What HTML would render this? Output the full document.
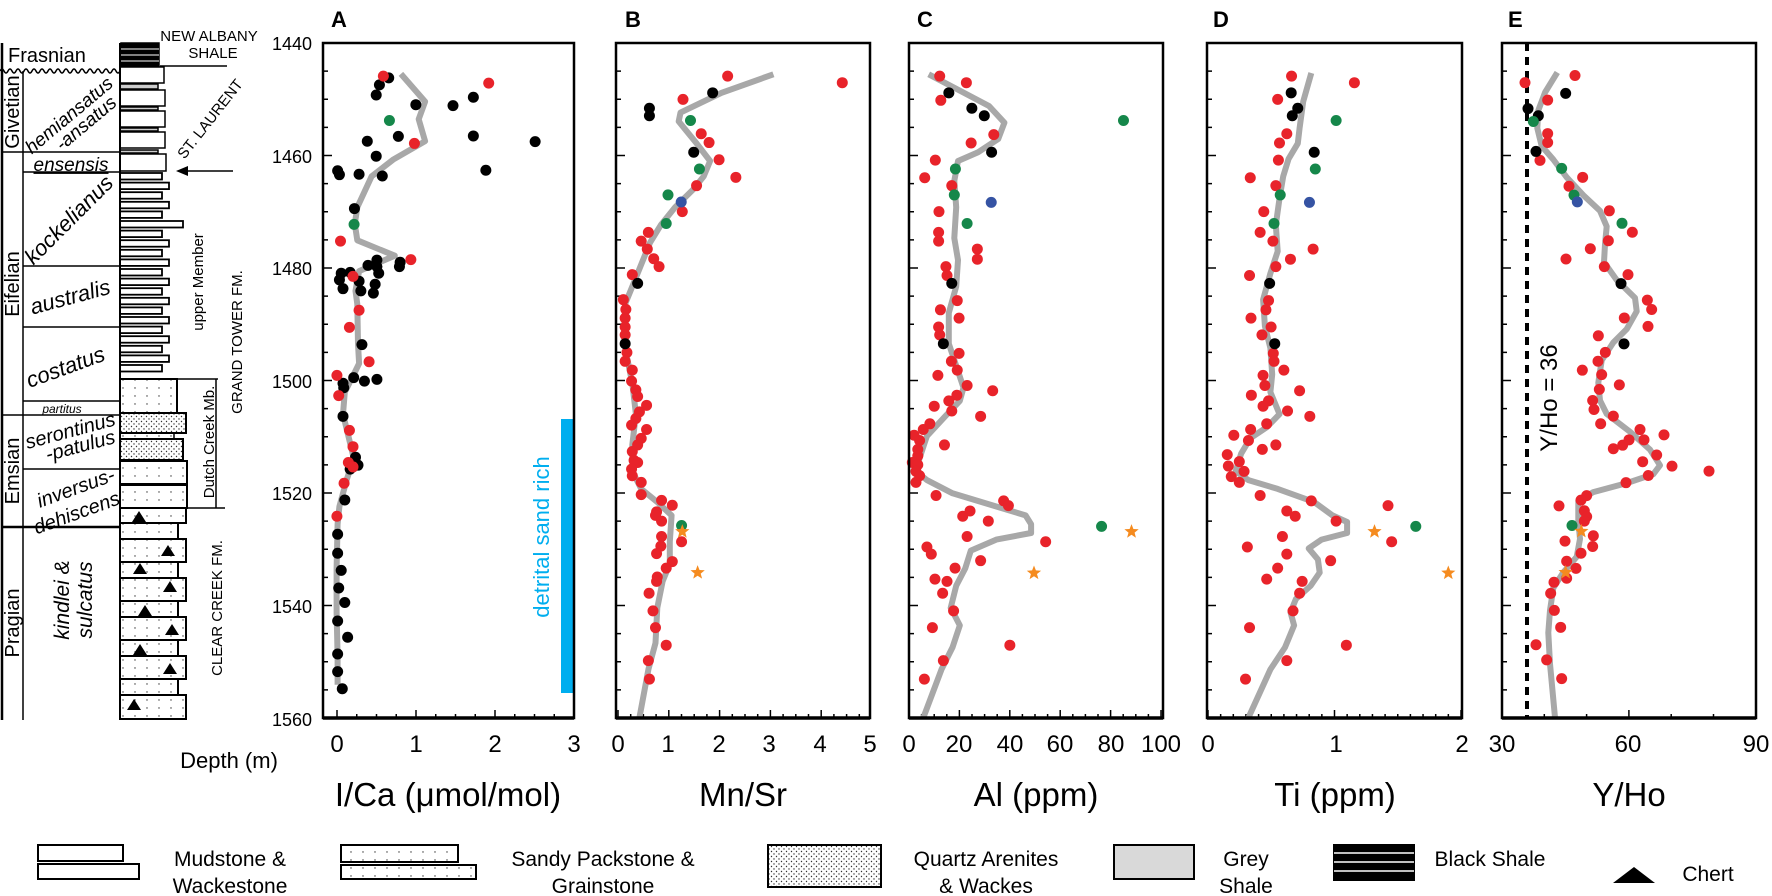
<!DOCTYPE html>
<html><head><meta charset="utf-8">
<style>
html,body{margin:0;padding:0;background:#fff;}
svg{display:block;font-family:"Liberation Sans",Arial,sans-serif;}
</style></head>
<body>
<svg id="s" width="1772" height="896" viewBox="0 0 1772 896" xmlns="http://www.w3.org/2000/svg">
<defs>
<pattern id="dots" width="12" height="8" patternUnits="userSpaceOnUse"><circle cx="3" cy="4" r="0.7" fill="#333"/></pattern>
<pattern id="dots2" width="5" height="5" patternUnits="userSpaceOnUse"><circle cx="1.5" cy="1.5" r="0.7" fill="#333"/><circle cx="4" cy="4" r="0.7" fill="#333"/></pattern>
</defs>
<!-- Panel letters -->
<g font-weight="bold" font-size="22">
<text x="331" y="27">A</text><text x="625" y="27">B</text><text x="917" y="27">C</text><text x="1213" y="27">D</text><text x="1508" y="27">E</text>
</g>
<!-- depth labels -->
<g font-size="18" text-anchor="end">
<text x="312" y="50">1440</text><text x="312" y="163">1460</text><text x="312" y="275">1480</text><text x="312" y="388">1500</text><text x="312" y="500">1520</text><text x="312" y="613">1540</text><text x="312" y="726">1560</text>
</g>
<text x="229" y="768" font-size="22" text-anchor="middle">Depth (m)</text>
<!-- bottom tick labels -->
<g font-size="24" text-anchor="middle">
<text x="337" y="752">0</text><text x="416" y="752">1</text><text x="495" y="752">2</text><text x="574" y="752">3</text>
<text x="618" y="752">0</text><text x="668" y="752">1</text><text x="719" y="752">2</text><text x="769" y="752">3</text><text x="820" y="752">4</text><text x="870" y="752">5</text>
<text x="909" y="752">0</text><text x="959" y="752">20</text><text x="1010" y="752">40</text><text x="1060" y="752">60</text><text x="1111" y="752">80</text><text x="1161" y="752">100</text>
<text x="1208" y="752">0</text><text x="1336" y="752">1</text><text x="1462" y="752">2</text>
<text x="1502" y="752">30</text><text x="1628" y="752">60</text><text x="1756" y="752">90</text>
</g>
<g font-size="33" text-anchor="middle">
<text x="448" y="806">I/Ca (μmol/mol)</text><text x="743" y="806">Mn/Sr</text><text x="1036" y="806">Al (ppm)</text><text x="1335" y="806">Ti (ppm)</text><text x="1629" y="806">Y/Ho</text>
</g>
<!-- blue bar -->
<rect x="561" y="419" width="12" height="274" fill="#00aeef"/>
<text transform="translate(549,537) rotate(-90)" font-size="22" fill="#00aeef" text-anchor="middle">detrital sand rich</text>
<!-- E dashed line -->
<line x1="1527" y1="43" x2="1527" y2="718" stroke="#000" stroke-width="4" stroke-dasharray="8,6"/>
<text transform="translate(1557,398) rotate(-90)" font-size="24" text-anchor="middle">Y/Ho = 36</text>
<g id="plots"></g>
<g id="col"></g>
<!-- Legend -->
<g stroke="#000" stroke-width="2" fill="#fff">
<rect x="38" y="845" width="85" height="16"/><rect x="38" y="864" width="101" height="15"/>
<rect x="341" y="845" width="117" height="17" fill="url(#dots)"/><rect x="341" y="865" width="135" height="14" fill="url(#dots)"/>
<rect x="768" y="845" width="113" height="42" fill="url(#dots2)"/>
<rect x="1114" y="845" width="80" height="34" fill="#d9d9d9"/>
<rect x="1334" y="845" width="80" height="35" fill="#000"/>
</g>
<g stroke="#fff" stroke-width="1.5"><line x1="1334" y1="853" x2="1414" y2="853"/><line x1="1334" y1="862" x2="1414" y2="862"/><line x1="1334" y1="871" x2="1414" y2="871"/></g>
<polygon points="1613,883 1655,883 1634,867" fill="#000"/>
<g font-size="21" text-anchor="middle">
<text x="230" y="866">Mudstone &amp;</text><text x="230" y="893">Wackestone</text>
<text x="603" y="866">Sandy Packstone &amp;</text><text x="603" y="893">Grainstone</text>
<text x="986" y="866">Quartz Arenites</text><text x="986" y="893">&amp; Wackes</text>
<text x="1246" y="866">Grey</text><text x="1246" y="893">Shale</text>
<text x="1490" y="866">Black Shale</text><text x="1708" y="881">Chert</text>
</g>
<!-- strat column texts -->
<g font-size="20">
<text x="8" y="62">Frasnian</text>
<text transform="translate(19,112) rotate(-90)" text-anchor="middle">Givetian</text>
<text transform="translate(19,284) rotate(-90)" text-anchor="middle">Eifelian</text>
<text transform="translate(19,471) rotate(-90)" text-anchor="middle">Emsian</text>
<text transform="translate(19,623) rotate(-90)" text-anchor="middle">Pragian</text>
</g>
<g font-size="19" font-style="italic" text-anchor="middle">
<text transform="translate(73,120) rotate(-40)">hemiansatus</text>
<text transform="translate(90,128) rotate(-40)">-ansatus</text>
<text x="71" y="171" text-decoration="underline">ensensis</text>
<text transform="translate(74,225) rotate(-45)" font-size="22">kockelianus</text>
<text transform="translate(72,304) rotate(-15)" font-size="22">australis</text>
<text transform="translate(68,374) rotate(-20)" font-size="22">costatus</text>
<text x="62" y="413" font-size="12">partitus</text>
<text transform="translate(72,437) rotate(-15)" font-size="20">serontinus</text>
<text transform="translate(82,452) rotate(-15)" font-size="20">-patulus</text>
<text transform="translate(78,494) rotate(-20)" font-size="20">inversus-</text>
<text transform="translate(79,519) rotate(-20)" font-size="20">dehiscens</text>
<text transform="translate(69,600) rotate(-90)" font-size="21">kindlei &amp;</text>
<text transform="translate(92,600) rotate(-90)" font-size="21">sulcatus</text>
</g>
<g font-size="15">
<text x="209" y="41" text-anchor="middle">NEW ALBANY</text><text x="213" y="58" text-anchor="middle">SHALE</text>
<text transform="translate(214,122) rotate(-52)" text-anchor="middle">ST. LAURENT</text>
<text transform="translate(203,282) rotate(-90)" text-anchor="middle">upper Member</text>
<text transform="translate(242,342) rotate(-90)" text-anchor="middle">GRAND TOWER FM.</text>
<text transform="translate(214,442) rotate(-90)" text-anchor="middle">Dutch Creek Mb.</text>
<text transform="translate(222,608) rotate(-90)" text-anchor="middle">CLEAR CREEK FM.</text>
</g>
<line x1="233" y1="171" x2="184" y2="171" stroke="#000" stroke-width="1.5"/>
<polygon points="176,171 188,166 188,176" fill="#000"/>
</svg>
<script>
var NS="http://www.w3.org/2000/svg";
function el(p,t,a){var e=document.createElementNS(NS,t);for(var k in a)e.setAttribute(k,a[k]);p.appendChild(e);return e;}
var P=document.getElementById('plots'),C=document.getElementById('col');
var Y0=43,Y1=718;
function dy(d){return Y0+(d-1440)*(Y1-Y0)/120;}
var boxes=[[323,574],[616,870],[909,1163],[1207,1462],[1502,1756]];
var z6=function(x,y){return [318+x/2.8,40+y/2.272];};
var z7=function(x,y){return [905+x/2.737,40+y/2.272];};
var z8=function(x,y){return [1440+x/3,30+y/2.24];};
var RED="#e8232a",BLK="#000",GRN="#15874a",BLU="#3553a3",ORG="#f58b1f",GRY="#a8a8a8";
// ticks & boxes
var minor=[[337,79,0.25,1],[618,50.8,0.25,1],[909,2.52,5,20],[1208,126.5,0.1,1],[1502,4.23,10,30]];
var ranges=[[-0.2,3],[0,5],[0,100],[0,2],[30,90]];
boxes.forEach(function(b,i){
 for(var d=1445;d<1560;d+=5){var y=dy(d);var L=(d%20==0)?9:5;el(P,'line',{x1:b[0],y1:y,x2:b[0]+L,y2:y,stroke:'#000','stroke-width':1.5});}
 var m=minor[i],r=ranges[i];
 for(var v=r[0]<0?0:r[0];v<=r[1]+1e-6;v+=m[2]){var x=m[0]+(v-(i==4?30:0))*m[1];if(x<b[0]+1||x>b[1]-1)continue;var maj=Math.abs(v/m[3]-Math.round(v/m[3]))<1e-6;el(P,'line',{x1:x,y1:Y1,x2:x,y2:Y1-(maj?8:4),stroke:'#000','stroke-width':1.5});}
});
function line(f,pts){var s=pts.map(function(p){var q=f(p[0],p[1]);return q[0].toFixed(1)+','+q[1].toFixed(1);}).join(' ');el(P,'polyline',{points:s,fill:'none',stroke:GRY,'stroke-width':6,'stroke-linejoin':'round','stroke-linecap':'butt'});}
function dots(f,pts,c){pts.forEach(function(p){var q=f(p[0],p[1]);el(P,'circle',{cx:q[0],cy:q[1],r:5.5,fill:c});});}
function stars(f,pts){pts.forEach(function(p){var q=f(p[0],p[1]);var s='';for(var k=0;k<10;k++){var a=-Math.PI/2+k*Math.PI/5,rr=k%2?3.2:7.5;s+=(q[0]+rr*Math.cos(a)).toFixed(1)+','+(q[1]+rr*Math.sin(a)).toFixed(1)+' ';}el(P,'polygon',{points:s,fill:ORG});});}
// Panel A
line(z6,[[232,77],[300,140],[282,180],[300,230],[210,272],[150,310],[110,380],[103,418],[110,455],[215,490],[115,525],[105,570],[110,600],[112,690],[115,735],[100,760],[75,800],[70,850],[85,900],[100,950],[80,1000],[60,1060],[55,1100],[52,1200],[52,1300],[55,1400],[55,1465]]);
dots(z6,[[198,86],[172,102],[163,125],[274,147],[378,149],[435,130],[225,219],[138,230],[435,218],[608,231],[163,264],[55,297],[60,306],[115,305],[180,309],[470,296],[102,383],[230,505],[228,515],[165,500],[140,512],[170,530],[65,530],[60,545],[90,528],[115,548],[160,555],[70,565],[120,570],[155,575],[165,515],[123,692],[100,767],[130,775],[165,771],[70,780],[72,790],[70,855],[105,948],[112,966],[90,975],[75,1045],[55,1123],[55,1166],[65,1205],[58,1245],[75,1278],[55,1320],[83,1357],[55,1395],[55,1435],[68,1474]],BLK);
dots(z6,[[183,82],[478,98],[270,235],[63,457],[260,499],[98,537],[115,614],[88,653],[143,731],[53,762],[58,808],[88,887],[98,924],[85,960],[98,970],[73,1007],[53,1082]],RED);
dots(z6,[[200,183],[101,419]],GRN);
// Panel B
line(z6,[[1275,78],[1130,120],[1015,165],[1010,185],[1060,235],[1098,275],[1080,310],[1050,340],[1000,380],[960,420],[930,460],[905,510],[880,560],[860,600],[858,650],[865,720],[880,780],[890,850],[880,920],[880,980],[905,1020],[950,1050],[990,1080],[985,1140],[985,1190],[965,1230],[950,1290],[945,1370],[925,1430],[900,1540]]);
dots(z6,[[1147,82],[1468,97],[1022,135],[1073,213],[1095,233],[1123,272],[1170,312],[1060,331],[1020,390],[925,437],[905,457],[922,475],[940,497],[955,515],[880,533],[855,590],[862,612],[860,632],[860,652],[860,670],[865,710],[860,730],[880,750],[878,775],[890,795],[895,810],[920,830],[900,845],[890,860],[878,875],[920,885],[905,905],[895,920],[880,935],[885,955],[895,960],[878,975],[880,990],[905,1005],[905,1033],[962,1046],[992,1057],[948,1072],[945,1080],[962,1093],[962,1128],[960,1150],[1018,1140],[948,1167],[992,1185],[975,1200],[950,1220],[948,1230],[927,1257],[938,1297],[945,1335],[975,1375],[925,1410],[928,1452]],RED);
dots(z6,[[1105,120],[928,155],[928,172],[1052,255],[895,553],[860,690]],BLK);
dots(z6,[[1043,183],[1068,293],[980,352],[975,417],[1018,1103]],GRN);
dots(z6,[[1017,368]],BLU);
stars(z6,[[1020,1117],[1063,1210]]);
// Panel C
line(z7,[[65,78],[150,115],[230,150],[272,188],[255,225],[200,255],[145,275],[135,320],[140,380],[135,450],[145,500],[140,560],[120,620],[120,690],[140,740],[160,790],[150,820],[110,855],[60,900],[40,950],[30,980],[60,1000],[130,1030],[250,1060],[330,1080],[345,1100],[345,1120],[250,1135],[180,1160],[165,1200],[140,1240],[125,1290],[150,1330],[130,1380],[100,1430],[50,1540]]);
dots(z7,[[95,82],[168,97],[98,137],[243,215],[181,234],[83,273],[54,313],[128,331],[93,390],[92,437],[92,457],[198,475],[198,498],[112,515],[115,535],[143,592],[97,613],[148,632],[92,652],[95,670],[148,712],[127,730],[143,750],[90,762],[170,785],[240,797],[142,807],[120,820],[80,832],[128,843],[207,855],[68,872],[50,885],[25,898],[40,910],[108,920],[35,930],[35,945],[20,960],[35,965],[30,980],[40,990],[30,1005],[85,1035],[270,1047],[283,1058],[178,1070],[158,1082],[228,1093],[170,1128],[385,1140],[60,1152],[72,1168],[207,1183],[137,1200],[82,1225],[115,1230],[103,1257],[133,1297],[75,1335],[287,1375],[105,1410],[53,1452]],RED);
dots(z7,[[120,120],[183,155],[217,172],[237,255],[128,553],[105,690]],BLK);
dots(z7,[[598,183],[138,293],[135,352],[170,417],[538,1105]],GRN);
dots(z7,[[236,369]],BLU);
stars(z7,[[620,1117],[353,1211]]);
// Panel D
line(z7,[[1112,75],[1090,140],[1080,200],[1075,235],[1050,270],[1035,310],[1025,360],[1015,420],[1020,480],[1000,530],[980,590],[985,650],[1000,700],[1005,760],[1000,800],[1025,850],[990,880],[945,905],[920,940],[905,980],[940,1000],[1020,1020],[1120,1050],[1170,1080],[1210,1095],[1210,1120],[1140,1135],[1105,1155],[1130,1180],[1135,1210],[1110,1240],[1070,1270],[1055,1300],[1065,1330],[1040,1380],[1000,1430],[940,1540]]);
dots(z7,[[1058,82],[1230,97],[1020,135],[1045,213],[1025,234],[1022,273],[945,313],[1015,331],[982,390],[972,437],[1007,457],[1117,475],[1055,498],[1015,515],[943,535],[995,592],[988,613],[947,632],[1002,652],[977,670],[1008,712],[1010,730],[1037,750],[980,762],[985,785],[1080,797],[948,807],[995,820],[980,832],[1047,843],[1108,855],[990,872],[946,885],[900,898],[940,910],[978,930],[1015,920],[882,942],[915,958],[885,968],[928,980],[893,992],[915,1005],[972,1035],[1112,1047],[1322,1058],[1045,1070],[1068,1082],[1180,1093],[1033,1128],[1332,1140],[937,1152],[1045,1168],[1165,1183],[1020,1200],[990,1225],[1087,1230],[1080,1257],[1062,1297],[943,1335],[1208,1375],[1045,1410],[932,1452]],RED);
dots(z7,[[1057,120],[1075,155],[1060,172],[1120,255],[998,553],[1012,690]],BLK);
dots(z7,[[1180,183],[1123,293],[1027,352],[1010,417],[1398,1105]],GRN);
dots(z7,[[1107,369]],BLU);
stars(z7,[[1285,1117],[1487,1211]]);
// Panel E
line(z8,[[352,95],[315,140],[295,180],[292,220],[305,260],[340,290],[380,330],[430,370],[480,405],[500,440],[495,480],[492,520],[530,560],[585,600],[590,630],[560,670],[520,700],[485,740],[475,790],[480,830],[500,860],[570,900],[630,940],[660,975],[640,995],[560,1015],[460,1035],[415,1055],[415,1100],[420,1140],[410,1180],[370,1215],[340,1250],[330,1300],[325,1350],[330,1420],[345,1540]]);
dots(z8,[[405,102],[255,118],[323,157],[323,232],[323,252],[300,292],[428,330],[387,350],[508,405],[577,453],[505,472],[451,490],[378,513],[493,530],[564,548],[622,605],[635,626],[553,645],[624,664],[475,685],[496,722],[474,742],[427,762],[485,772],[538,795],[478,805],[458,830],[462,850],[482,882],[520,865],[600,895],[612,918],[672,907],[548,930],[567,918],[520,938],[650,952],[608,967],[696,977],[807,988],[625,998],[558,1014],[440,1043],[423,1053],[357,1066],[433,1077],[440,1090],[433,1100],[460,1133],[375,1145],[458,1157],[423,1172],[380,1190],[408,1206],[380,1228],[342,1237],[332,1262],[343,1300],[362,1338],[288,1377],[320,1411],[365,1453]],RED);
dots(z8,[[377,142],[264,176],[295,192],[288,272],[543,568],[552,703]],BLK);
dots(z8,[[280,205],[365,310],[402,370],[546,433],[396,1110]],GRN);
dots(z8,[[412,385]],BLU);
stars(z8,[[424,1123],[377,1215]]);
// box frames
boxes.forEach(function(b){el(P,'rect',{x:b[0],y:Y0,width:b[1]-b[0],height:Y1-Y0,fill:'none',stroke:'#000','stroke-width':2.5});
 el(P,'line',{x1:b[0],y1:Y1,x2:b[1],y2:Y1,stroke:'#000','stroke-width':3.5});});
// ---- strat column ----
function R(x,y,w,h,f,sw){el(C,'rect',{x:x,y:y,width:w,height:h,fill:f||'#fff',stroke:'#000','stroke-width':sw||1.5});}
function L(x1,y1,x2,y2,w){el(C,'line',{x1:x1,y1:y1,x2:x2,y2:y2,stroke:'#000','stroke-width':w||1.5});}
// black shale
R(121,43,38,23,'#000');
[49,55,61].forEach(function(y){el(C,'line',{x1:121,y1:y,x2:159,y2:y,stroke:'#fff','stroke-width':1});});
L(160,66,227,66);
[[67,16,164,'#fff'],[84,5,158,'#ccc'],[90,16,165,'#fff'],[107,3,158,'#ccc'],[111,16,165,'#fff'],[128,3,158,'#ccc'],[132,16,165,'#fff'],[150,3,158,'#ccc'],[154,17,166,'#fff']].forEach(function(r){R(120,r[0],r[2]-120,r[1],r[3]);});
var k=0;for(var y=173;y<372;y+=9.6){var rr=(k%2?169:162);if(Math.abs(y-222)<5)rr=183;R(120,y,rr-120,6.5,'#fff',1.8);k++;}
// sandy section
R(120,379,57,34,'url(#dots)',2);
R(120,413,66,20,'url(#dots2)',2);
R(120,433,54,6,'url(#dots)',1.5);
R(120,439,63,21,'url(#dots2)',2);
R(120,461,67,24,'url(#dots)',2);
R(120,484,67,24,'url(#dots)',2);
var segs=[[508,15,186],[523,16,178],[539,23,186],[562,16,178],[578,23,186],[601,16,178],[617,23,186],[640,16,178],[656,23,186],[679,16,178],[695,24,186]];
segs.forEach(function(s){R(120,s[0],s[2]-120,s[1],'url(#dots)',2);});
[[139,517],[168,551],[140,569],[170,587],[145,611],[172,630],[140,650],[170,669],[134,705]].forEach(function(t){el(C,'polygon',{points:(t[0]-7)+','+(t[1]+5)+' '+(t[0]+7)+','+(t[1]+5)+' '+t[0]+','+(t[1]-6),fill:'#000'});});
// column lines
L(120,43,120,720,2);
L(2,43,2,720,2.5);
L(23,71,23,720,1.5);
L(2,152,120,152);L(23,172,120,172,1.5);L(23,266,120,266);L(23,327,120,327);L(23,401,120,401);L(2,415,120,415);L(23,469,120,469);L(2,527,120,527,2.5);
L(177,379,218,379);L(216,379,216,508);L(187,508,225,508);
// wavy line
var d='M0,71';for(var x=0;x<120;x+=8){d+=' q2,-4 4,0 q2,4 4,0';}
el(C,'path',{d:d,fill:'none',stroke:'#000','stroke-width':1.5});
</script>
</body></html>
